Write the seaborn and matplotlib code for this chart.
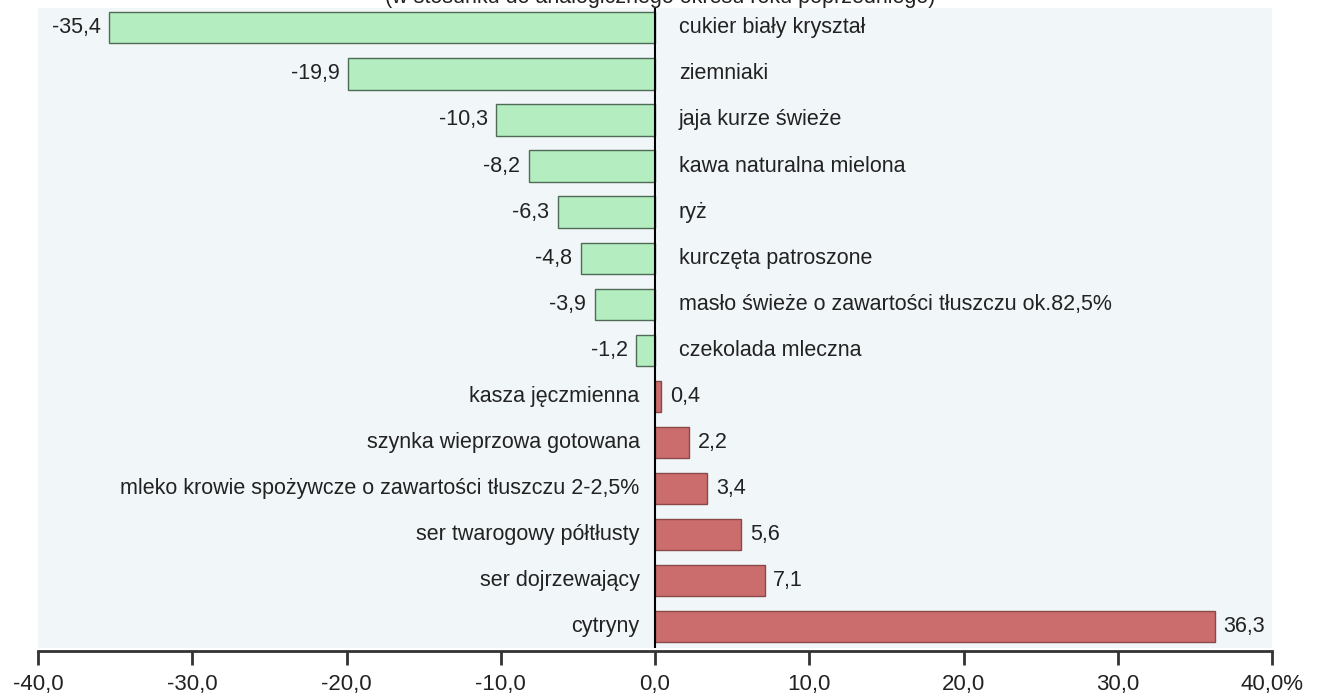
import seaborn as sns
import matplotlib.pyplot as plt
import pandas as pd

# dynamika cen wybranych produktow zywnosciowych (%)
produkty = ['cukier biały kryształ', 'ziemniaki', 'jaja kurze świeże',
            'kawa naturalna mielona', 'ryż', 'kurczęta patroszone',
            'masło świeże o zawartości tłuszczu ok.82,5%', 'czekolada mleczna',
            'kasza jęczmienna', 'szynka wieprzowa gotowana',
            'mleko krowie spożywcze o zawartości tłuszczu 2-2,5%',
            'ser twarogowy półtłusty', 'ser dojrzewający', 'cytryny']
zmiana = [-35.4, -19.9, -10.3, -8.2, -6.3, -4.8, -3.9, -1.2,
          0.4, 2.2, 3.4, 5.6, 7.1, 36.3]
ticks = [-40, -30, -20, -10, 0, 10, 20, 30, 40]
tick_labels = ['-40,0', '-30,0', '-20,0', '-10,0', '0,0', '10,0', '20,0', '30,0', '40,0%']

df = pd.DataFrame({'produkt': produkty, 'zmiana': zmiana})
df['znak'] = ['spadek' if v < 0 else 'wzrost' for v in df['zmiana']]

sns.set_style('white')
plt.rcParams['font.family'] = ['Liberation Sans Narrow', 'Liberation Sans', 'DejaVu Sans']

W, H = 1329, 699
fig = plt.figure(figsize=(W / 100, H / 100), dpi=100)
ax = fig.add_axes([38 / W, 1 - 648 / H, (1272 - 38) / W, (648 - 8) / H])
ax.set_facecolor('#f1f6f9')

sns.barplot(data=df, x='zmiana', y='produkt', hue='znak', orient='h',
            palette={'spadek': '#b3edc0', 'wzrost': '#cc6d6d'}, saturation=1,
            dodge=False, width=0.68, legend=False, ax=ax)
for bar in ax.patches:
    neg = bar.get_x() < 0 or bar.get_width() < 0
    bar.set_edgecolor('#4f6b55' if neg else '#8a4848')
    bar.set_linewidth(1.0)

ax.set_xlim(-40, 40)
ax.set_ylim(len(produkty) - 1 + 0.46, -0.43)
ax.axvline(0, color='black', lw=1.5)

fs = 15.5
for i, (name, v) in enumerate(zip(produkty, zmiana)):
    val = f'{v:.1f}'.replace('.', ',')
    if v < 0:
        ax.text(v - 0.55, i, val, ha='right', va='center', fontsize=fs, color='#222222')
        ax.text(1.55, i, name, ha='left', va='center', fontsize=fs, color='#222222')
    else:
        ax.text(v + 0.55, i, val, ha='left', va='center', fontsize=fs, color='#222222')
        ax.text(-1.0, i, name, ha='right', va='center', fontsize=fs, color='#222222')

ax.set_yticks([])
ax.set_xlabel('')
ax.set_ylabel('')
ax.set_xticks(ticks)
ax.set_xticklabels(tick_labels)
for s in ['top', 'right', 'left']:
    ax.spines[s].set_visible(False)
ax.spines['bottom'].set_color('#333333')
ax.spines['bottom'].set_linewidth(2)
ax.spines['bottom'].set_position(('outward', 2))
ax.tick_params(axis='x', bottom=True, direction='out', length=10, width=2,
               color='#333333', pad=7, labelsize=16, labelcolor='#222222')

fig.text(0.497, 1 - 3 / H, '(w stosunku do analogicznego okresu roku poprzedniego)',
         ha='center', va='baseline', fontsize=fs, color='#222222')

fig.savefig('out.png', dpi=100)
